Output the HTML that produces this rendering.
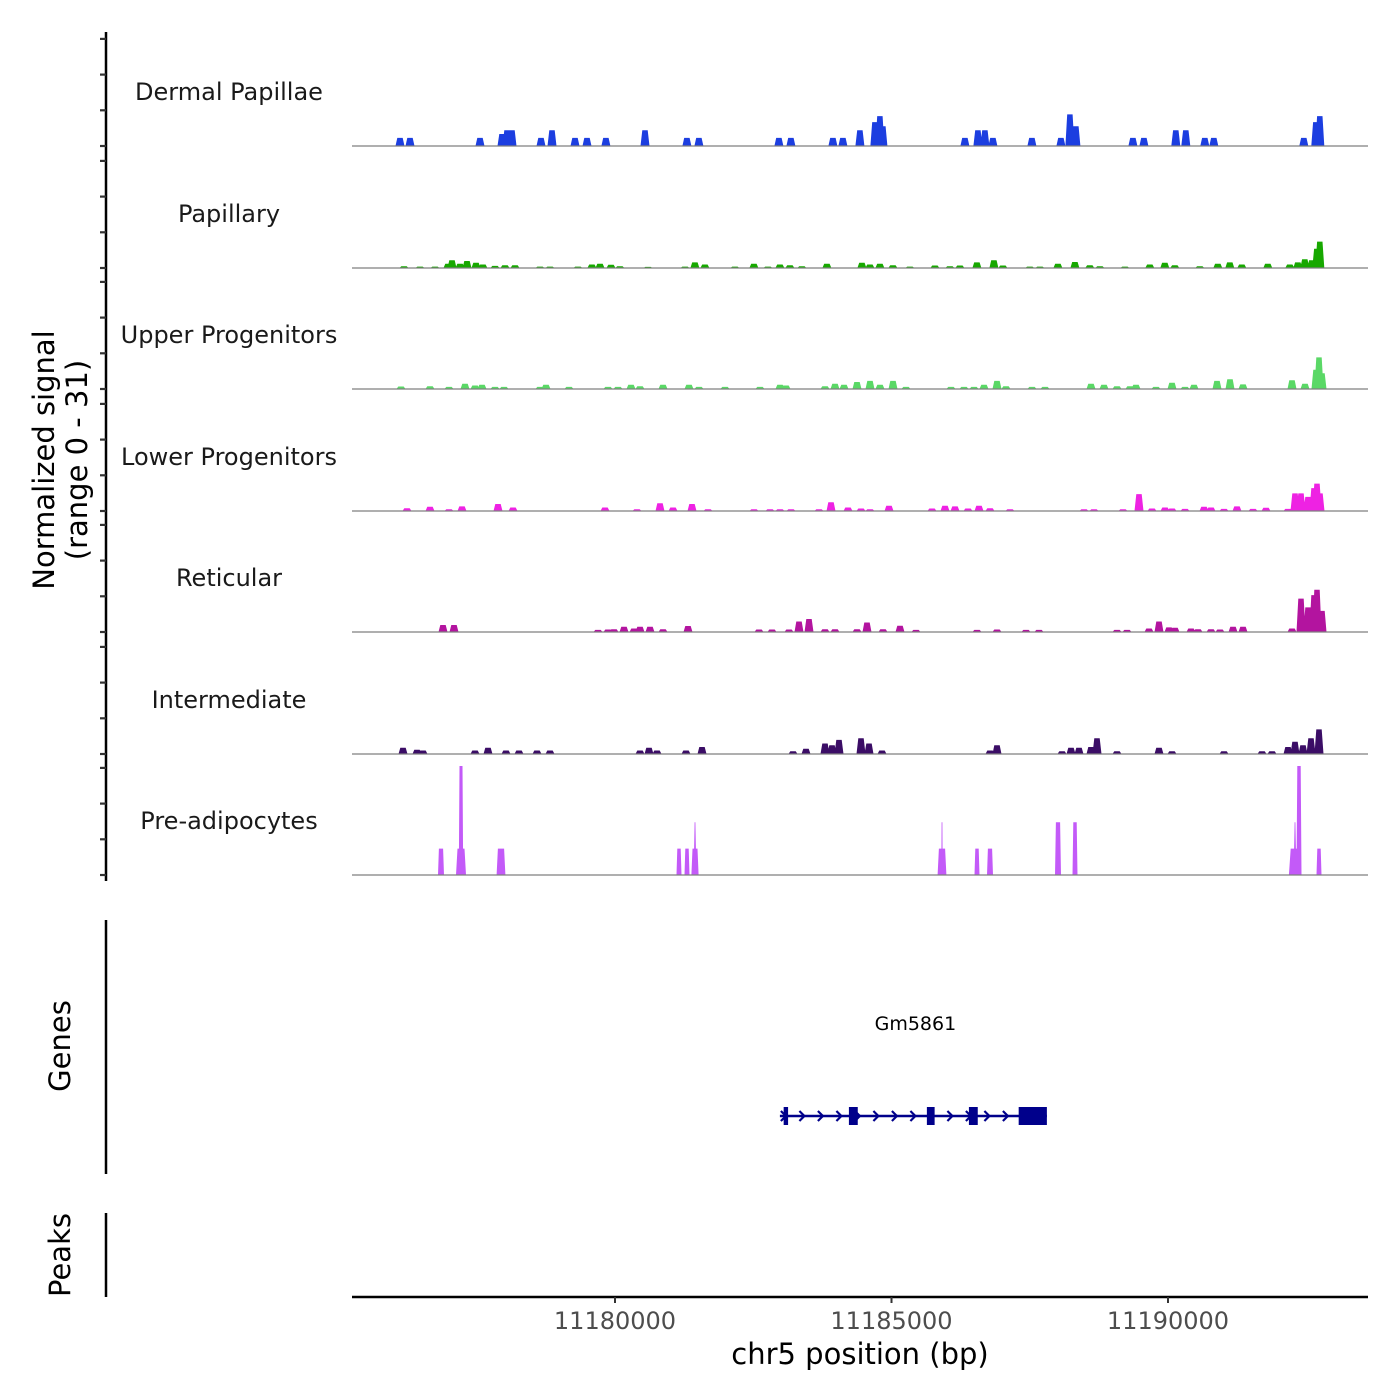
<!DOCTYPE html>
<html><head><meta charset="utf-8">
<style>
html,body{margin:0;padding:0;background:#fff;}
svg{display:block;font-family:"DejaVu Sans","Liberation Sans",sans-serif;}
</style></head>
<body>
<svg id="chart" width="1400" height="1400" viewBox="0 0 1400 1400" xmlns="http://www.w3.org/2000/svg">
<g id="tracks"></g>
<g id="genes"></g>
<g id="axes"></g>
</svg>
<script>
// ---- data ----
const regionStart = 11175244;
const regionEnd = 11193617;
const maxSignal = 31;
const trackNames = ["Dermal Papillae","Papillary","Upper Progenitors","Lower Progenitors","Reticular","Intermediate","Pre-adipocytes"];
const trackColors = ["#1c3ee0","#17a800","#5ad866","#ee22e3","#b3149f","#3b0d66","#c35af8"];
const xTicks = [11180000,11185000,11190000];
const xTickLabels = ["11180000","11185000","11190000"];
const yTicks = [0,10,20,30];

const dpPos = [11176112,11176293,11177558,11177956,11178047,11178137,11178661,11178860,11179276,11179493,11179836,11180542,11181301,11181518,11182964,11183181,11183941,11184121,11184429,11184700,11184790,11184845,11186327,11186562,11186689,11186833,11187539,11188063,11188226,11188334,11189365,11189564,11190142,11190323,11190666,11190829,11192456,11192673,11192746];
const dpVal = [2.3,2.3,2.3,3.4,4.5,4.5,2.3,4.5,2.3,2.3,2.3,4.5,2.3,2.3,2.3,2.3,2.3,2.3,4.5,6.8,8.5,5.6,2.3,4.5,4.5,2.3,2.3,2.3,9,5.6,2.3,2.3,4.5,4.5,2.3,2.3,2.3,6.8,8.5];

const paPos = [11176185,11176473,11176745,11176980,11177052,11177197,11177323,11177486,11177612,11177830,11178010,11178191,11178643,11178824,11179330,11179583,11179728,11179927,11180089,11180596,11181265,11181445,11181626,11182168,11182512,11182765,11182982,11183163,11183380,11183832,11184465,11184610,11184790,11185025,11185333,11185785,11186056,11186237,11186544,11186851,11187014,11187502,11187683,11188009,11188316,11188587,11188768,11189220,11189672,11189943,11190124,11190576,11190901,11191118,11191335,11191805,11192203,11192348,11192474,11192601,11192691,11192745];
const paVal = [0.5,0.4,0.4,1.2,2.2,1.2,2.0,1.5,1.0,0.6,0.8,0.8,0.4,0.4,0.4,1.0,1.2,0.9,0.5,0.3,0.4,1.6,1.0,0.4,1.2,0.4,1.0,0.8,0.5,1.2,1.5,1.0,1.2,0.8,0.4,0.7,0.5,0.7,1.6,2.2,0.7,0.4,0.4,1.2,1.7,0.8,0.5,0.4,1.0,1.5,0.8,0.5,1.2,1.6,1.0,1.2,1.0,1.6,2.5,2.2,5.5,7.5];

const upX = [401,430,449,465,475,482,495,504,540,546,569,608,618,631,640,663,689,699,725,760,780,786,825,835,844,857,870,880,893,906,951,964,974,984,997,1006,1032,1045,1091,1104,1117,1130,1136,1156,1172,1185,1194,1217,1230,1243,1292,1305,1316,1319,1322];
const upVal = [0.7,0.8,0.6,1.5,1.0,1.2,0.6,0.6,0.6,1.2,0.6,0.6,0.6,1.2,0.8,1.2,1.2,0.6,0.6,0.6,1.2,1.0,0.8,1.5,1.2,2.0,2.3,1.2,2.3,0.6,0.6,0.6,0.6,1.2,2.3,0.8,0.6,0.6,1.5,1.2,0.8,0.8,1.2,0.6,1.8,0.6,1.2,2.3,2.8,1.3,2.5,1.5,5.5,9.0,4.5];

const loX = [407,430,449,462,498,513,605,637,660,673,692,708,754,770,780,791,819,831,848,861,870,889,932,945,955,968,979,990,1010,1084,1094,1123,1139,1152,1165,1172,1185,1204,1211,1224,1237,1253,1266,1288,1295,1301,1308,1314,1317,1320];
const loVal = [0.8,1.2,0.5,1.3,2.0,1.0,1.0,0.5,2.2,1.0,2.0,0.5,0.5,0.5,0.5,0.5,0.5,2.5,1.0,0.7,0.5,1.5,0.7,1.5,1.3,0.7,1.5,0.8,0.5,0.5,0.5,0.5,4.8,0.7,1.0,0.7,0.6,1.2,1.0,0.6,1.3,0.6,0.9,0.6,5.0,5.0,4.0,6.5,7.8,5.0];

const reX = [443,454,598,608,614,624,634,640,650,663,688,759,772,789,799,809,825,835,857,867,883,900,916,977,997,1026,1039,1117,1127,1149,1159,1169,1175,1191,1198,1211,1220,1233,1243,1292,1301,1308,1314,1317,1322];
const reVal = [2.0,2.0,0.6,0.7,0.8,1.5,1.0,1.5,1.5,0.8,1.7,0.7,0.7,0.7,3.0,3.7,0.8,0.8,0.8,2.7,0.8,1.8,0.6,0.6,0.7,0.6,0.6,0.6,0.6,1.0,3.0,1.3,1.2,1.0,0.8,0.8,0.7,1.5,1.5,1.0,9.5,7.0,10.5,12,6];

const inX = [403,417,423,475,488,506,519,537,550,640,649,657,686,702,793,806,825,832,839,861,869,882,990,997,1062,1071,1079,1091,1097,1117,1159,1172,1224,1262,1272,1288,1295,1303,1311,1319];
const inVal = [1.8,1.2,1.0,1.0,1.8,1.0,1.0,1.0,1.0,1.0,1.8,1.0,1.0,2.0,0.8,1.5,3.0,2.5,4.0,4.5,3.0,1.0,1.0,2.5,0.8,1.8,1.8,2.0,4.5,0.8,1.8,0.8,0.8,0.8,0.8,2.0,3.5,2.5,4.5,7.0];

const prX = [441,461,461,501,679,687,695,695,942,942,977,990,1058,1075,1295,1295,1299,1319];
const prVal = [7.5,7.5,31,7.5,7.5,7.5,7.5,15,7.5,15,7.5,7.5,15,15,7.5,15,31,7.5];
const prWidthBp = [110,180,80,160,90,90,130,50,160,25,90,110,110,90,220,50,90,90];

const geneName = "Gm5861";
const geneStart = 11182982;
const geneEnd = 11187810;
const exonStarts = [11183050,11184230,11185640,11186400,11187300];
const exonEnds = [11183130,11184390,11185780,11186560,11187810];
</script>
<script>
const NS = "http://www.w3.org/2000/svg";
const X0 = 352, X1 = 1368;
const pxPerBp = (X1 - X0) / (regionEnd - regionStart);
function xScale(bp){ return X0 + (bp - regionStart) * pxPerBp; }
function bpFromPx(px){ return regionStart + (px - X0) / pxPerBp; }
const baselines = [146,268,389,511,632,754,875];
const yUnit = 109 / maxSignal;
function yScale(v, b){ return b - v * yUnit; }
function mk(tag, attrs, parent){
  const e = document.createElementNS(NS, tag);
  for (const k in attrs) e.setAttribute(k, attrs[k]);
  parent.appendChild(e);
  return e;
}
const tracksG = document.getElementById('tracks');
const genesG = document.getElementById('genes');
const axesG = document.getElementById('axes');

const trackData = [
  [dpPos, dpVal, null, false],
  [paPos, paVal, null, false],
  [upX, upVal, null, true],
  [loX, loVal, null, true],
  [reX, reVal, null, true],
  [inX, inVal, null, true],
  [prX, prVal, prWidthBp, true]
];
const labelY = [92,214,335,457,578,700,821];

trackData.forEach((td, i) => {
  const b = baselines[i];
  const g = mk('g', {}, tracksG);
  
  
  const lbl = mk('text', {x: 229, y: labelY[i] + 8, 'text-anchor': 'middle', 'font-size': 24, fill: '#1a1a1a'}, g);
  lbl.textContent = trackNames[i];
  
  
  const [pos, val, wid, isPx] = td;
  let d = '';
  for (let k = 0; k < pos.length; k++) {
    const bp = isPx ? bpFromPx(pos[k]) : pos[k];
    const cx = xScale(bp);
    const w = wid ? wid[k] * pxPerBp : 9;
    const top = yScale(val[k], b);
    let inner = wid ? w * 0.35 : w * 0.3;
    if (wid && w < 4) inner = 0.4;
    d += `M${(cx - w/2).toFixed(1)},${b}L${(cx - inner).toFixed(1)},${top.toFixed(1)}L${(cx + inner).toFixed(1)},${top.toFixed(1)}L${(cx + w/2).toFixed(1)},${b}Z`;
  }
  const p = mk('path', {d: d, fill: trackColors[i]}, g);
  
  
  const bl = mk('line', {x1: X0, x2: X1, y1: b, y2: b, stroke: '#7f7f7f', 'stroke-width': 1.2}, g);
  
  
});

// left signal axis
const yAxis = mk('line', {x1: 106, x2: 106, y1: 32, y2: 881, stroke: '#000', 'stroke-width': 2.5}, axesG);


baselines.forEach(b => {
  yTicks.forEach(t => {
    const yy = b - t * 3.57;
    const tk = mk('line', {x1: 100, x2: 106, y1: yy, y2: yy, stroke: '#333', 'stroke-width': 2.2}, axesG);
    
    
  });
});
const yt = mk('text', {transform: 'translate(54,460) rotate(-90)', 'text-anchor': 'middle', 'font-size': 29, fill: '#000'}, axesG);


const t1 = mk('tspan', {x: 0, dy: 0}, yt); t1.textContent = 'Normalized signal';
const t2 = mk('tspan', {x: 0, dy: 33}, yt); t2.textContent = '(range 0 - 31)';

// genes axis
const ga = mk('line', {x1: 106, x2: 106, y1: 920, y2: 1174, stroke: '#000', 'stroke-width': 2.5}, axesG);


const gt = mk('text', {transform: 'translate(70,1046) rotate(-90)', 'text-anchor': 'middle', 'font-size': 29, fill: '#000'}, axesG);
gt.textContent = 'Genes';


const pa = mk('line', {x1: 106, x2: 106, y1: 1213, y2: 1297, stroke: '#000', 'stroke-width': 2.5}, axesG);


const pt = mk('text', {transform: 'translate(70,1255) rotate(-90)', 'text-anchor': 'middle', 'font-size': 29, fill: '#000'}, axesG);
pt.textContent = 'Peaks';



// x axis
const xa = mk('line', {x1: X0, x2: X1, y1: 1297, y2: 1297, stroke: '#000', 'stroke-width': 2.5}, axesG);


xTicks.forEach((t, i) => {
  const x = xScale(t);
  const tk = mk('line', {x1: x, x2: x, y1: 1297, y2: 1303, stroke: '#333', 'stroke-width': 2}, axesG);
  
  
  const tl = mk('text', {x: x, y: 1329, 'text-anchor': 'middle', 'font-size': 24, fill: '#4d4d4d'}, axesG);
  tl.textContent = xTickLabels[i];
  
  
});
const xt = mk('text', {x: 860, y: 1364, 'text-anchor': 'middle', 'font-size': 29, fill: '#000'}, axesG);
xt.textContent = 'chr5 position (bp)';



// gene model
const gy = 1116;
const gs = xScale(geneStart), ge = xScale(geneEnd);
const gl = mk('text', {x: (gs + ge) / 2 + 2, y: 1030, 'text-anchor': 'middle', 'font-size': 19, fill: '#000'}, genesG);
gl.textContent = geneName;


const intr = mk('line', {x1: gs, x2: ge, y1: gy, y2: gy, stroke: '#00008b', 'stroke-width': 2.5}, genesG);


let cd = '';
for (let x = gs + 4; x < ge - 8; x += 18.5) {
  cd += `M${(x-3).toFixed(1)},${gy-5}L${(x+2).toFixed(1)},${gy}L${(x-3).toFixed(1)},${gy+5}`;
}
const chev = mk('path', {d: cd, stroke: '#00008b', 'stroke-width': 2.2, fill: 'none'}, genesG);


exonStarts.forEach((s, i) => {
  const x1 = xScale(s), x2 = xScale(exonEnds[i]);
  const r = mk('rect', {x: x1, y: gy - 9, width: Math.max(3, x2 - x1), height: 18, fill: '#00008b'}, genesG);
  
  
});
</script>
</body></html>
